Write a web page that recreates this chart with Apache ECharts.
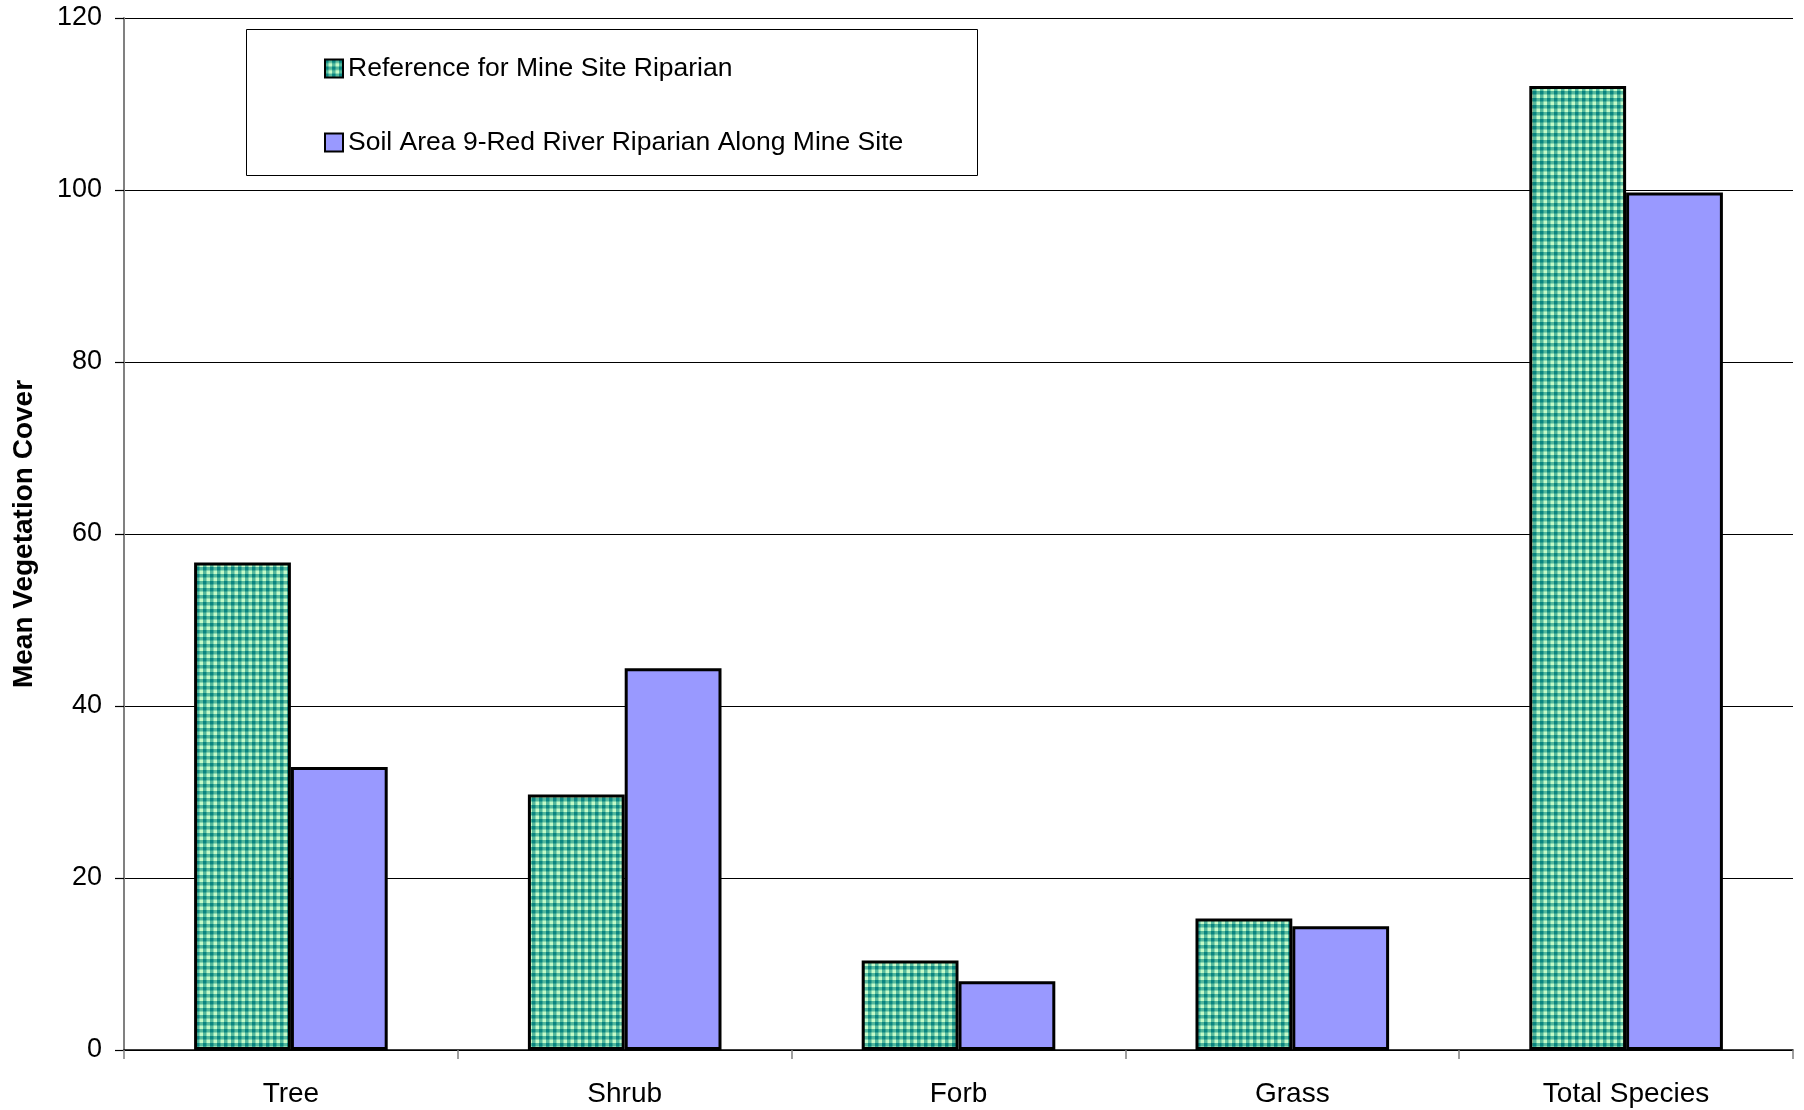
<!DOCTYPE html>
<html>
<head>
<meta charset="utf-8">
<script src="https://cdn.jsdelivr.net/npm/echarts@6/dist/echarts.min.js"></script>
<style>
  html, body { margin: 0; padding: 0; background: #fff; }
  #chart { width: 1804px; height: 1110px; }
</style>
</head>
<body>
<div id="chart"></div>
<script>
// Vegetation cover by life form
const categories = ['Tree', 'Shrub', 'Forb', 'Grass', 'Total Species'];
const referenceName = 'Reference for Mine Site Riparian';
const soilAreaName = 'Soil Area 9-Red River Riparian Along Mine Site';
const referenceValues = [56.7, 29.7, 10.4, 15.3, 112.1];
const soilAreaValues = [32.9, 44.4, 8.0, 14.4, 99.7];
const yTicks = { min: 0, max: 120, interval: 20 };

const FONT = '"Liberation Sans", Arial, sans-serif';

// Teal / mint grid-check fill: dark cell, light cell on the diagonal, mid tone elsewhere
function checkerPattern() {
  const c = document.createElement('canvas');
  c.width = 21; c.height = 21;
  const g = c.getContext('2d');
  g.fillStyle = '#55b89c';
  g.fillRect(0, 0, 21, 21);
  const p = 7, h = 3.5;
  for (let i = 0; i < 3; i++) {
    for (let j = 0; j < 3; j++) {
      g.fillStyle = '#0a8580';
      g.fillRect(i * p, j * p, h, h);
      g.fillStyle = '#c4fac8';
      g.fillRect(i * p + h, j * p + h, h, h);
    }
  }
  return c;
}

const chart = echarts.init(document.getElementById('chart'), null, { renderer: 'canvas' });

const option = {
  backgroundColor: '#ffffff',
  animation: false,
  textStyle: { fontFamily: FONT },
  grid: { left: 124, right: 11, top: 18, bottom: 60, containLabel: false, outerBoundsMode: 'none' },
  graphic: [{
    type: 'rect',
    left: 246, top: 29,
    shape: { width: 731, height: 146 },
    style: { fill: '#ffffff', stroke: '#000000', lineWidth: 1 },
    z: 10
  }],
  legend: {
    orient: 'vertical',
    left: 324, top: 55,
    itemWidth: 18, itemHeight: 18,
    itemGap: 47,
    icon: 'rect',
    padding: 0,
    z: 20,
    textStyle: { fontFamily: FONT, fontSize: 26.5, color: '#000', padding: [0, 0, 0, 0] },
    data: [referenceName, soilAreaName]
  },
  xAxis: {
    type: 'category',
    data: categories,
    axisLine: { lineStyle: { color: '#000', width: 1.5 } },
    axisTick: { show: true, length: 9, lineStyle: { color: '#808080', width: 1.5 } },
    axisLabel: { fontFamily: FONT, fontSize: 28, color: '#000', margin: 30 },
    splitLine: { show: false }
  },
  yAxis: {
    type: 'value',
    min: yTicks.min, max: yTicks.max, interval: yTicks.interval,
    name: 'Mean Vegetation Cover',
    nameLocation: 'middle',
    nameGap: 86,
    nameTextStyle: { fontFamily: FONT, fontSize: 28, fontWeight: 'bold', color: '#000' },
    axisLine: { show: true, lineStyle: { color: '#808080', width: 2 } },
    axisTick: { show: true, length: 9, lineStyle: { color: '#000', width: 1.2 } },
    axisLabel: { fontFamily: FONT, fontSize: 27, color: '#000', margin: 22 },
    splitLine: { show: true, lineStyle: { color: '#000', width: 1.2 } }
  },
  series: [
    {
      name: referenceName,
      type: 'bar',
      data: referenceValues,
      barGap: '0%',
      barCategoryGap: '42%',
      itemStyle: {
        color: { image: checkerPattern(), repeat: 'repeat' },
        borderColor: '#000', borderWidth: 3
      }
    },
    {
      name: soilAreaName,
      type: 'bar',
      data: soilAreaValues,
      barGap: '0%',
      barCategoryGap: '42%',
      itemStyle: { color: '#9999ff', borderColor: '#000', borderWidth: 3 }
    }
  ]
};

chart.setOption(option);
</script>
</body>
</html>
